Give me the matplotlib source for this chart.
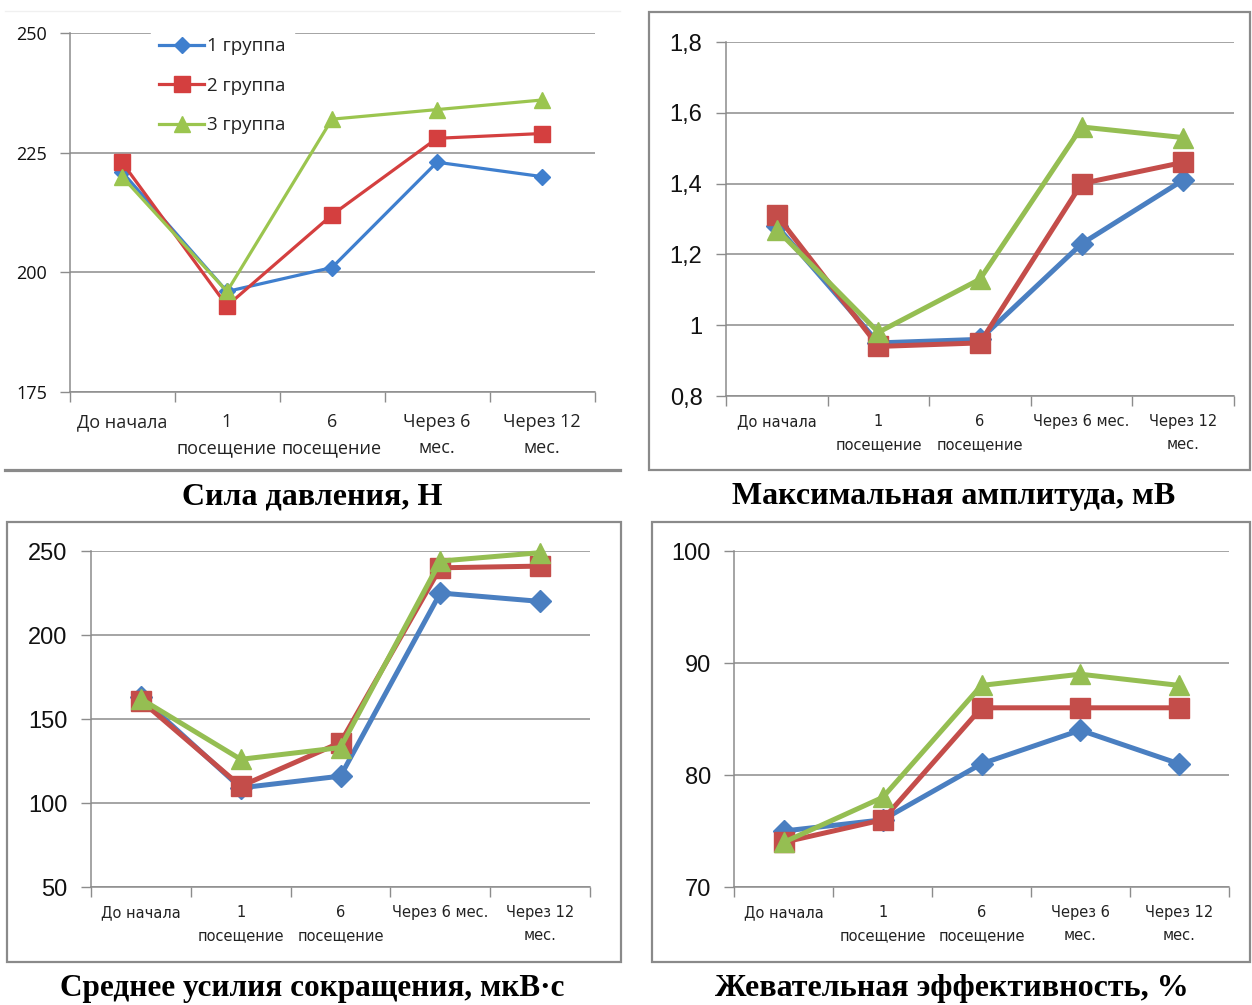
import matplotlib
matplotlib.use("Agg")
import matplotlib.pyplot as plt
from matplotlib.lines import Line2D
from matplotlib.patches import Rectangle

W, H = 1252, 1005

# ---------------- data ----------------
cats_p1 = ["До начала", "1\nпосещение", "6\nпосещение", "Через 6\nмес.", "Через 12\nмес."]
cats_p2 = ["До начала", "1\nпосещение", "6\nпосещение", "Через 6 мес.", "Через 12\nмес."]
cats_p3 = ["До начала", "1\nпосещение", "6\nпосещение", "Через 6 мес.", "Через 12\nмес."]
cats_p4 = ["До начала", "1\nпосещение", "6\nпосещение", "Через 6\nмес.", "Через 12\nмес."]

series_names = ["1 группа", "2 группа", "3 группа"]

force_g1 = [221, 196, 201, 223, 220]
force_g2 = [223, 193, 212, 228, 229]
force_g3 = [220, 196, 232, 234, 236]

amp_g1 = [1.28, 0.95, 0.96, 1.23, 1.41]
amp_g2 = [1.31, 0.94, 0.95, 1.40, 1.46]
amp_g3 = [1.27, 0.98, 1.13, 1.56, 1.53]

avg_g1 = [163, 109, 116, 225, 220]
avg_g2 = [161, 110, 136, 240, 241]
avg_g3 = [162, 126, 133, 244, 249]

eff_g1 = [75, 76, 81, 84, 81]
eff_g2 = [74, 76, 86, 86, 86]
eff_g3 = [74, 78, 88, 89, 88]

titles = ["Сила давления, Н", "Максимальная амплитуда, мВ",
          "Среднее усилия сокращения, мкВ·с", "Жевательная эффективность, %"]

yticks_p1 = [175, 200, 225, 250]
yticks_p2 = [0.8, 1.0, 1.2, 1.4, 1.6, 1.8]
ylabels_p2 = ["0,8", "1", "1,2", "1,4", "1,6", "1,8"]
yticks_p3 = [50, 100, 150, 200, 250]
yticks_p4 = [70, 80, 90, 100]

# ---------------- style ----------------
GRID = "#8c8c8c"
colors1 = ["#3F7FCE", "#D43F3F", "#9BC54F"]
colors2 = ["#4A7FC1", "#C44D4A", "#95BE52"]
markers = ["D", "s", "^"]

fig = plt.figure(figsize=(W / 100, H / 100), dpi=100)
fig.patch.set_facecolor("white")


def add_ax(x0, y0, x1, y1):
    return fig.add_axes([x0 / W, 1 - y1 / H, (x1 - x0) / W, (y1 - y0) / H])


def style_axes(ax, cats, yticks, ylabels, ylim, ytick_font, yfs, xfs, xfont, xpad, lsp, ypad):
    n = len(cats)
    ax.set_xlim(0, n)
    ax.set_ylim(*ylim)
    ax.set_xticks(range(n + 1))
    ax.set_xticklabels([])
    ax.set_xticks([i + 0.5 for i in range(n)], minor=True)
    ax.set_xticklabels(cats, minor=True, fontsize=xfs, family=xfont,
                       linespacing=lsp, color="#222222")
    ax.tick_params(axis="x", which="major", direction="out", length=7,
                   color=GRID, width=1)
    ax.tick_params(axis="x", which="minor", length=0, pad=xpad)
    ax.set_yticks(yticks)
    ax.set_yticklabels(ylabels, fontsize=yfs, family=ytick_font, color="#111111")
    ax.tick_params(axis="y", direction="out", length=7, color=GRID, width=1, pad=ypad)
    ax.grid(axis="y", color=GRID, linewidth=1.1)
    ax.set_axisbelow(True)
    for s in ["top", "right"]:
        ax.spines[s].set_visible(False)
    for s in ["left", "bottom"]:
        ax.spines[s].set_color(GRID)
        ax.spines[s].set_linewidth(1.1)


def plot_series(ax, data, colors, lw, msizes):
    x = [i + 0.5 for i in range(len(data[0]))]
    handles = []
    for d, c, m, ms, name in zip(data, colors, markers, msizes, series_names):
        h, = ax.plot(x, d, color=c, lw=lw, marker=m, markersize=ms,
                     markerfacecolor=c, markeredgecolor=c, label=name,
                     clip_on=False, zorder=3)
        handles.append(h)
    return handles


# ---------- Panel 1 ----------
ax1 = add_ax(69.5, 33, 594.5, 392)
style_axes(ax1, cats_p1, yticks_p1, [str(v) for v in yticks_p1], (175, 250),
           "Open Sans", 13, 13, "Open Sans", 15, 1.6, 9)
plot_series(ax1, [force_g1, force_g2, force_g3], colors1, 2.3, [8.5, 11, 11.5])
leg = ax1.legend(loc="upper left", bbox_to_anchor=(0.155, 1.012), frameon=True,
                 handlelength=2.4, handletextpad=0.15,
                 labelspacing=1.15, borderpad=0.45, borderaxespad=0,
                 prop={"family": "Open Sans", "size": 13.5})
leg.get_frame().set_facecolor("white")
leg.get_frame().set_edgecolor("white")
leg.get_frame().set_alpha(1)
for t in leg.get_texts():
    t.set_color("#222222")

# bottom rule under panel 1 and faint top
fig.add_artist(Line2D([5 / W, 620 / W], [1 - 470 / H, 1 - 470 / H], color="#8a8a8a",
                      lw=2.3, transform=fig.transFigure))
fig.add_artist(Line2D([5 / W, 620 / W], [1 - 11 / H, 1 - 11 / H], color="#f0f0f0",
                      lw=1, transform=fig.transFigure))

# ---------- Panel 2 ----------
ax2 = add_ax(726, 42, 1234, 396)
style_axes(ax2, cats_p2, yticks_p2, ylabels_p2, (0.8, 1.8),
           "Liberation Sans", 17, 10.5, "DejaVu Sans", 13, 1.65, 10)
plot_series(ax2, [amp_g1, amp_g2, amp_g3], colors2, 3.6, [11.5, 14, 14.5])

# ---------- Panel 3 ----------
ax3 = add_ax(91, 551, 590, 887)
style_axes(ax3, cats_p3, yticks_p3, [str(v) for v in yticks_p3], (50, 250),
           "Liberation Sans", 17, 10.5, "DejaVu Sans", 13, 1.65, 10)
plot_series(ax3, [avg_g1, avg_g2, avg_g3], colors2, 3.6, [11.5, 14, 14.5])

# ---------- Panel 4 ----------
ax4 = add_ax(734.5, 551, 1228.5, 887)
style_axes(ax4, cats_p4, yticks_p4, [str(v) for v in yticks_p4], (70, 100),
           "Liberation Sans", 17, 10.5, "DejaVu Sans", 13, 1.65, 10)
plot_series(ax4, [eff_g1, eff_g2, eff_g3], colors2, 3.6, [11.5, 14, 14.5])

# frames around panels 2-4
for (x0, y0, x1, y1) in [(649, 12, 1250, 470), (7, 522, 621, 962), (652, 522, 1250, 962)]:
    fig.add_artist(Rectangle((x0 / W, 1 - y1 / H), (x1 - x0) / W, (y1 - y0) / H,
                             transform=fig.transFigure, fill=False,
                             edgecolor="#8a8a8a", lw=1.6))

# titles
for (tx, ty, fs), t in zip([(312, 497, 23), (954, 496, 23), (312, 988, 22.5), (952, 988, 23)], titles):
    fig.text(tx / W, 1 - ty / H, t, ha="center", va="center", fontsize=fs,
             fontweight="bold", family="Liberation Serif", color="black")

fig.savefig("out.png", dpi=100, facecolor="white")
